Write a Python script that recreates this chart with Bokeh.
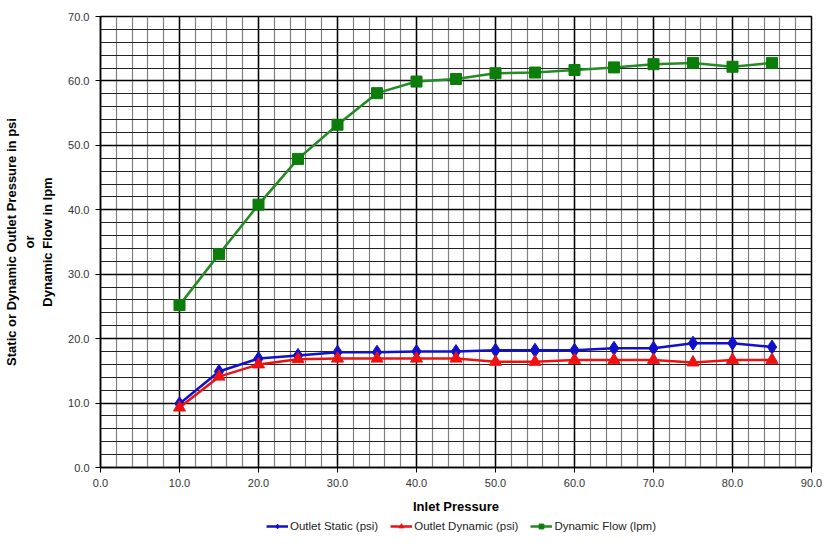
from bokeh.plotting import figure
from bokeh.layouts import column
from bokeh.models import (SingleIntervalTicker, NumeralTickFormatter, Legend, LegendItem, Range1d)
from bokeh.embed import file_html
from bokeh.resources import INLINE

inlet = [10, 15, 20, 25, 30, 35, 40, 45, 50, 55, 60, 65, 70, 75, 80, 85]
outlet_static = [9.9, 14.9, 16.9, 17.4, 17.9, 17.9, 18.0, 18.0, 18.2, 18.2, 18.2, 18.5, 18.5, 19.3, 19.3, 18.7]
outlet_dynamic = [9.3, 14.1, 16.0, 16.8, 16.9, 16.9, 16.9, 16.9, 16.4, 16.4, 16.7, 16.7, 16.7, 16.3, 16.7, 16.7]
dynamic_flow = [25.2, 33.1, 40.8, 47.9, 53.2, 58.1, 59.9, 60.3, 61.2, 61.3, 61.7, 62.1, 62.6, 62.8, 62.2, 62.8]
series_names = ["Outlet Static (psi)", "Outlet Dynamic (psi)", "Dynamic Flow (lpm)"]

FONT = "Liberation Sans"
W = 822

p = figure(width=W, height=516, output_backend="svg", toolbar_location=None,
           x_range=Range1d(0, 90), y_range=Range1d(0, 70),
           min_border_left=100, min_border_right=11, min_border_top=16, min_border_bottom=47)

p.outline_line_color = "black"
p.outline_line_width = 1.5

for ax in (p.xaxis, p.yaxis):
    ax.ticker = SingleIntervalTicker(interval=10, num_minor_ticks=5)
    ax.formatter = NumeralTickFormatter(format="0.0")
    ax.major_label_text_font = FONT
    ax.major_label_text_font_size = "11px"
    ax.major_label_text_color = "#333333"
    ax.axis_line_color = "black"
    ax.axis_line_width = 1.5
    ax.major_tick_line_color = "black"
    ax.major_tick_out = 5
    ax.major_tick_in = 0
    ax.minor_tick_out = 0
    ax.minor_tick_in = 0
    ax.axis_label_text_font = FONT
    ax.axis_label_text_font_style = "bold"
    ax.axis_label_text_font_size = "13px"
    ax.axis_label_text_color = "black"

p.xaxis.axis_label = "Inlet Pressure"
p.yaxis.axis_label = "Static or Dynamic Outlet Pressure in psi\nor\nDynamic Flow in lpm"
p.xaxis.major_label_standoff = 6
p.xaxis.axis_label_standoff = 9
p.yaxis.major_label_standoff = 6
p.yaxis.axis_label_standoff = 10

p.xgrid.grid_line_color = "black"
p.xgrid.grid_line_width = 1.5
p.ygrid.grid_line_color = "black"
p.ygrid.grid_line_width = 1.5
p.xgrid.minor_grid_line_color = "#808080"
p.xgrid.minor_grid_line_width = 1.2
p.ygrid.minor_grid_line_color = "#222222"
p.ygrid.minor_grid_line_width = 1

blue = "#1010cc"
red = "#ee1111"
green_line = "#228b22"
green_mark = "#0b7d0b"

p.line(inlet, outlet_static, line_color=blue, line_width=2.5)
p.scatter(inlet, outlet_static, marker="diamond", size=14, fill_color=blue, line_color=blue)
p.line(inlet, outlet_dynamic, line_color=red, line_width=2.5)
p.scatter(inlet, outlet_dynamic, marker="triangle", size=12, fill_color=red, line_color=red)
p.line(inlet, dynamic_flow, line_color=green_line, line_width=2.5)
p.scatter(inlet, dynamic_flow, marker="square", size=11, fill_color=green_mark, line_color=green_mark)

# legend strip below the chart: same series, ranges set so nothing is in view
q = figure(width=W, height=16, output_backend="svg", toolbar_location=None,
           x_range=Range1d(0, 90), y_range=Range1d(1000, 1001),
           x_axis_type=None, y_axis_type=None, min_border=0)
q.outline_line_color = None
q.grid.visible = False
a1 = q.line(inlet, outlet_static, line_color=blue, line_width=2.5)
b1 = q.scatter(inlet, outlet_static, marker="diamond", size=7, fill_color=blue, line_color=blue)
a2 = q.line(inlet, outlet_dynamic, line_color=red, line_width=2.5)
b2 = q.scatter(inlet, outlet_dynamic, marker="triangle", size=6, fill_color=red, line_color=red)
a3 = q.line(inlet, dynamic_flow, line_color=green_line, line_width=2.5)
b3 = q.scatter(inlet, dynamic_flow, marker="square", size=6, fill_color=green_mark, line_color=green_mark)

legend = Legend(items=[
    LegendItem(label=series_names[0], renderers=[a1, b1]),
    LegendItem(label=series_names[1], renderers=[a2, b2]),
    LegendItem(label=series_names[2], renderers=[a3, b3]),
], orientation="horizontal", location=(166, 0))
legend.label_text_font = FONT
legend.label_text_font_size = "11.5px"
legend.label_text_color = "#222222"
legend.label_standoff = 2
legend.label_height = 12
legend.glyph_width = 22
legend.glyph_height = 12
legend.spacing = 12
legend.padding = 2
legend.margin = 0
legend.border_line_color = None
legend.background_fill_alpha = 0
q.add_layout(legend, "center")

layout = column(p, q, spacing=0)
open("out.html", "w").write(file_html(layout, INLINE))
